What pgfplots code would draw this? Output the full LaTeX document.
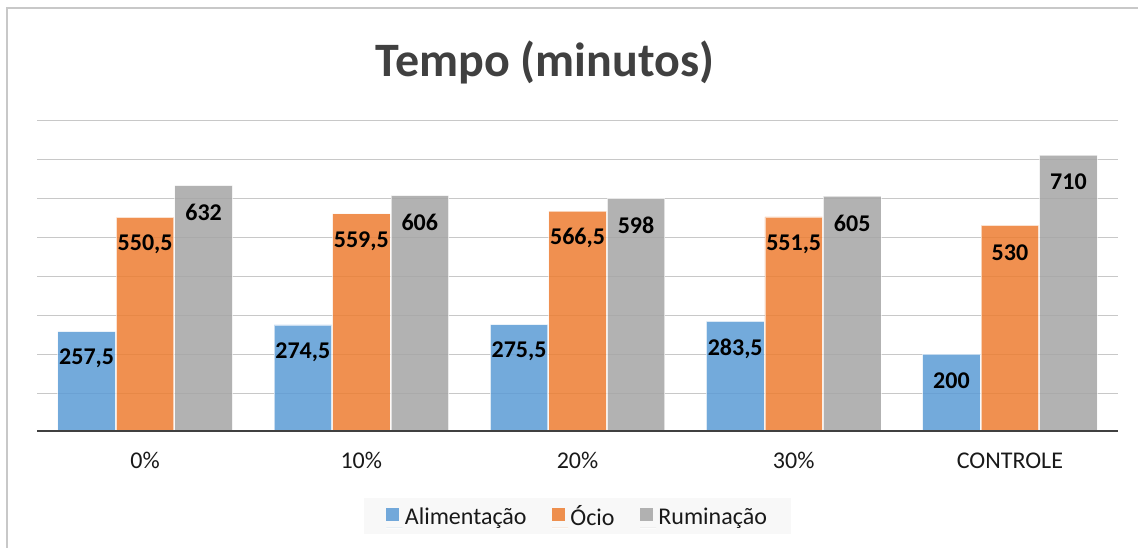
\documentclass[border=0pt]{standalone}
\usepackage{pgfplots}
\pgfplotsset{compat=1.18}
\usepackage{fontspec}
\setmainfont{Carlito}
\definecolor{cblue}{RGB}{91,155,213}
\definecolor{corange}{RGB}{237,125,49}
\definecolor{cgray}{RGB}{165,165,165}
\definecolor{gridc}{RGB}{200,200,200}
\definecolor{basec}{RGB}{64,64,64}
\definecolor{titlec}{RGB}{64,64,64}
\definecolor{legbg}{RGB}{248,248,248}
\begin{document}
\begin{tikzpicture}
\useasboundingbox (0,0) rectangle (1138bp,548bp);
\draw[gridc, line width=1.5bp] (7bp,0) -- (7bp,540bp) -- (1138bp,540bp);
\node[font=\fontsize{48bp}{56bp}\selectfont\bfseries, text=titlec] at (545bp,486bp) {Tempo (minutos)};
\begin{axis}[
  at={(37bp,116bp)}, anchor=south west,
  scale only axis, width=1081bp, height=312bp,
  xmin=-0.5, xmax=4.5, ymin=0, ymax=800,
  axis line style={draw=none},
  xtick={0,1,2,3,4},
  xticklabels={0\%,10\%,20\%,30\%,CONTROLE},
  xticklabel style={font=\fontsize{24bp}{28bp}\selectfont, text=black!90, yshift=-17bp},
  ytick={100,200,...,800},
  yticklabels={},
  major tick length=0pt,
  tick style={draw=none},
  ymajorgrids,
  grid style={gridc, line width=1bp},
  ybar, bar width=57.5bp,
  point meta=explicit symbolic,
  nodes near coords,
  every node near coord/.append style={anchor=center, yshift=-27bp, font=\fontsize{24bp}{28bp}\selectfont\bfseries, text=black},
  legend style={at={(0.5,-0.269)}, anchor=center, draw=none, fill=legbg,
    font=\fontsize{24bp}{28bp}\selectfont, text=black!90,
    legend columns=3, inner xsep=22bp, inner ysep=5bp,
    /tikz/every even column/.append style={column sep=23bp}},
  legend cell align=left,
  legend image code/.code={\fill[#1, draw=none] (0bp,-5bp) rectangle (13bp,8bp); \path (0bp,-12bp) -- (16bp,-12bp);},
]
\addplot[bar shift=-58.5bp, fill=cblue, fill opacity=0.85, draw=white, draw opacity=0.6, line width=0.8bp, text opacity=1]
  coordinates {(0,257.5) [257,5] (1,274.5) [274,5] (2,275.5) [275,5] (3,283.5) [283,5] (4,200) [200]};
\addplot[bar shift=0bp, fill=corange, fill opacity=0.85, draw=white, draw opacity=0.6, line width=0.8bp, text opacity=1]
  coordinates {(0,550.5) [550,5] (1,559.5) [559,5] (2,566.5) [566,5] (3,551.5) [551,5] (4,530) [530]};
\addplot[bar shift=58.5bp, fill=cgray, fill opacity=0.85, draw=white, draw opacity=0.6, line width=0.8bp, text opacity=1]
  coordinates {(0,632) [632] (1,606) [606] (2,598) [598] (3,605) [605] (4,710) [710]};
\legend{Alimentação\strut, Ócio\strut, Ruminação\strut}
\draw[basec, line width=3bp] (axis cs:-0.5,0) -- (axis cs:4.5,0);
\end{axis}
\end{tikzpicture}
\end{document}
